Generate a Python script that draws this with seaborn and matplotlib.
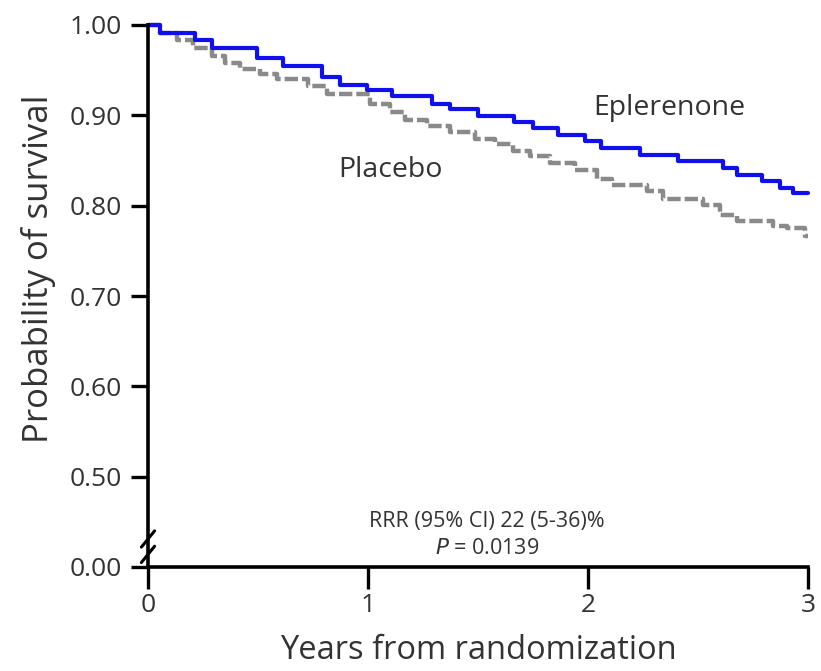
import matplotlib
matplotlib.use("Agg")
import matplotlib.pyplot as plt
import matplotlib.transforms as mtransforms
import numpy as np
import pandas as pd
import seaborn as sns

# ---- data ----
eple_t = [0.000, 0.055, 0.214, 0.291, 0.495, 0.614, 0.791, 0.873, 0.995, 1.109,
          1.291, 1.373, 1.500, 1.664, 1.750, 1.864, 1.986, 2.059, 2.236, 2.409,
          2.614, 2.677, 2.791, 2.873, 2.932, 3.000]
eple_s = [1.000, 0.991, 0.983, 0.974, 0.964, 0.955, 0.942, 0.934, 0.928, 0.921,
          0.913, 0.907, 0.899, 0.893, 0.886, 0.878, 0.872, 0.864, 0.856, 0.850,
          0.842, 0.834, 0.827, 0.820, 0.814, 0.814]

plac_t = [0.000, 0.055, 0.132, 0.205, 0.291, 0.350, 0.418, 0.509, 0.586, 0.727,
          0.814, 1.009, 1.100, 1.168, 1.268, 1.373, 1.486, 1.577, 1.659, 1.736,
          1.827, 1.941, 2.041, 2.109, 2.268, 2.341, 2.523, 2.600, 2.677, 2.841,
          2.905, 2.986, 3.000]
plac_s = [1.000, 0.991, 0.983, 0.975, 0.966, 0.958, 0.951, 0.946, 0.940, 0.932,
          0.924, 0.912, 0.904, 0.895, 0.888, 0.881, 0.874, 0.868, 0.861, 0.855,
          0.847, 0.839, 0.830, 0.823, 0.816, 0.807, 0.801, 0.790, 0.783, 0.778,
          0.775, 0.766, 0.766]

x_ticks = [0, 1, 2, 3]
y_tick_labels = ["0.00", "0.50", "0.60", "0.70", "0.80", "0.90", "1.00"]
y_tick_pos = [0.40, 0.50, 0.60, 0.70, 0.80, 0.90, 1.00]   # 0.00 drawn below the axis break

sns.set_style("ticks")
plt.rcParams["font.family"] = ["Open Sans", "DejaVu Sans"]

TXT = "#333333"

fig = plt.figure(figsize=(8.21, 6.71), dpi=100)
ax = fig.add_axes([148/821, 1 - 567/671, (808 - 148)/821, (567 - 25)/671])

df_e = pd.DataFrame({"t": eple_t, "s": eple_s})
df_p = pd.DataFrame({"t": plac_t, "s": plac_s})

sns.lineplot(data=df_p, x="t", y="s", ax=ax, estimator=None, sort=False,
             drawstyle="steps-post", color="#8a8a8a", linewidth=3.2,
             linestyle=(0, (3, 0.9)), clip_on=False, legend=False)
sns.lineplot(data=df_e, x="t", y="s", ax=ax, estimator=None, sort=False,
             drawstyle="steps-post", color="#1010ee", linewidth=3.0,
             clip_on=False, legend=False)

ax.set_xlim(0, 3)
ax.set_ylim(0.40, 1.00)
ax.set_xticks(x_ticks)
ax.set_xticklabels([str(v) for v in x_ticks])
ax.set_yticks(y_tick_pos)
ax.set_yticklabels(y_tick_labels)

for side in ["top", "right"]:
    ax.spines[side].set_visible(False)
for side in ["left", "bottom"]:
    ax.spines[side].set_linewidth(2.6)
    ax.spines[side].set_color("black")

ax.tick_params(axis="y", length=12, width=2.4, labelsize=19, pad=7, colors="black",
               labelcolor=TXT)
ax.tick_params(axis="x", length=16, width=2.4, labelsize=19, pad=3, colors="black",
               labelcolor=TXT)

ax.set_xlabel("Years from randomization", fontsize=23.5, color=TXT)
ax.set_ylabel("Probability of survival", fontsize=25, color=TXT)
ax.xaxis.set_label_coords(0.5, -0.123)
ax.yaxis.set_label_coords(-0.140, 0.55)

# axis break marks
trans = mtransforms.blended_transform_factory(ax.transAxes, ax.transData)
ax.plot([-0.006, 0.006], [0.4225, 0.4225], transform=trans, color="white",
        linewidth=6, clip_on=False, solid_capstyle="butt")
for yc in [0.431, 0.414]:
    ax.plot([-0.010, 0.010], [yc - 0.009, yc + 0.009], transform=trans,
            color="black", linewidth=2.2, clip_on=False)

ax.text(2.37, 0.908, "Eplerenone", fontsize=20.5, color=TXT, ha="center", va="center")
ax.text(1.10, 0.839, "Placebo", fontsize=20.5, color=TXT, ha="center", va="center")
ax.text(1.54, 0.450, "RRR (95% CI) 22 (5-36)%", fontsize=15.5, color=TXT,
        ha="center", va="center")
ax.text(1.54, 0.421, r"$\it{P}$ = 0.0139", fontsize=15.5, color=TXT,
        ha="center", va="center")

fig.savefig("out.png", dpi=100)
